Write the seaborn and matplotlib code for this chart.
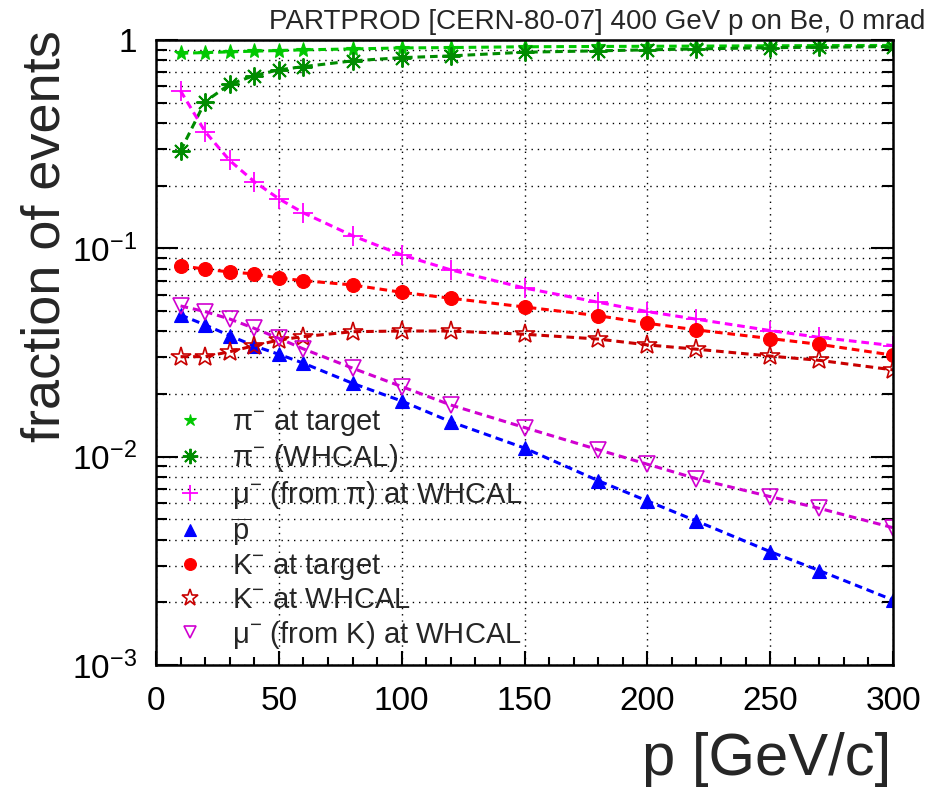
import numpy as np
import matplotlib
matplotlib.use("Agg")
import matplotlib.pyplot as plt
from matplotlib.lines import Line2D
from matplotlib.ticker import LogLocator, MultipleLocator, FuncFormatter, NullFormatter
import seaborn as sns

# Beam momentum bins [GeV/c]
momentum = [10, 20, 30, 40, 50, 60, 80, 100, 120, 150, 180, 200, 220, 250, 270, 300]

# Fraction of events per species
pi_target = [0.864, 0.870, 0.877, 0.884, 0.890, 0.897, 0.906, 0.916, 0.920, 0.928,
             0.931, 0.933, 0.935, 0.938, 0.940, 0.942]
pi_whcal = [0.294, 0.506, 0.613, 0.675, 0.719, 0.745, 0.794, 0.823, 0.839, 0.874,
            0.887, 0.897, 0.906, 0.919, 0.923, 0.930]
mu_from_pi = [0.570, 0.363, 0.264, 0.209, 0.173, 0.148, 0.115, 0.093, 0.0788, 0.0645,
              0.0551, 0.0497, 0.0457, 0.0403, 0.0374, 0.0341]
pbar = [0.0479, 0.0429, 0.0381, 0.0340, 0.0310, 0.0281, 0.0225, 0.0185, 0.0147, 0.0110,
        0.00767, 0.00613, 0.00491, 0.00350, 0.00284, 0.00205]
k_target = [0.0826, 0.0794, 0.0770, 0.0754, 0.0719, 0.0700, 0.0667, 0.0615, 0.0576, 0.0523,
            0.0475, 0.0437, 0.0406, 0.0369, 0.0346, 0.0307]
k_whcal = [0.0302, 0.0302, 0.0319, 0.0341, 0.0363, 0.0377, 0.0398, 0.0401, 0.0401, 0.0387,
           0.0367, 0.0344, 0.0328, 0.0304, 0.0290, 0.0261]
mu_from_k = [0.0529, 0.0497, 0.0458, 0.0413, 0.0370, 0.0329, 0.0266, 0.0217, 0.0177, 0.0138,
             0.0108, 0.00920, 0.00784, 0.00643, 0.00565, 0.00456]

labels = [
    "π$^{-}$ at target",
    "π$^{-}$ (WHCAL)",
    "μ$^{-}$ (from π) at WHCAL",
    r"$\overline{\mathrm{p}}$",
    "K$^{-}$ at target",
    "K$^{-}$ at WHCAL",
    "μ$^{-}$ (from K) at WHCAL",
]
series = [pi_target, pi_whcal, mu_from_pi, pbar, k_target, k_whcal, mu_from_k]

# marker, size, face, edge, edge width, line colour
styles = [
    dict(marker="*", ms=11, mfc="#00c800", mec="#00c800", mew=0.8, color="#00c800"),
    dict(marker=(8, 2, 0), ms=13, mfc="#008c00", mec="#008c00", mew=1.4, color="#008c00"),
    dict(marker="+", ms=14, mfc="#ff00ff", mec="#ff00ff", mew=1.3, color="#ff00ff"),
    dict(marker="^", ms=9.5, mfc="#0000ff", mec="#0000ff", mew=0.8, color="#0000ff"),
    dict(marker="o", ms=10, mfc="#ff0000", mec="#ff0000", mew=0.8, color="#ff0000"),
    dict(marker="*", ms=15, mfc="none", mec="#c80000", mew=1.2, color="#c80000"),
    dict(marker="v", ms=11, mfc="none", mec="#d000d0", mew=1.2, color="#d000d0"),
]

sns.set_style("ticks")
plt.rcParams["font.family"] = ["Liberation Sans", "DejaVu Sans"]
plt.rcParams["mathtext.fontset"] = "custom"
plt.rcParams["mathtext.rm"] = "Liberation Sans"
plt.rcParams["mathtext.it"] = "Liberation Sans:italic"
plt.rcParams["mathtext.bf"] = "Liberation Sans:bold"

W, H = 938, 787
fig = plt.figure(figsize=(W / 100, H / 100), dpi=100)
ax = fig.add_axes([156 / W, 1 - 665 / H, (893 - 156) / W, (665 - 40) / H])
ax.set_yscale("log")

dash = (0, (2.5, 1.6))
for vals, st in zip(series, styles):
    sns.lineplot(x=momentum, y=vals, ax=ax, sort=False, legend=False,
                 lw=2.2, linestyle=dash, **st)

ax.set_xlim(0, 300)
ax.set_ylim(1e-3, 1)

ax.xaxis.set_major_locator(MultipleLocator(50))
ax.xaxis.set_minor_locator(MultipleLocator(10))
ax.yaxis.set_major_locator(LogLocator(base=10, numticks=10))
ax.yaxis.set_minor_locator(LogLocator(base=10, subs=np.arange(2, 10), numticks=20))
ax.yaxis.set_minor_formatter(NullFormatter())


def decade_label(v, pos):
    e = int(round(np.log10(v)))
    return "1" if e == 0 else r"$10^{%d}$" % e


ax.yaxis.set_major_formatter(FuncFormatter(decade_label))

ax.tick_params(axis="both", which="both", direction="in", colors="black", width=1.5)
ax.tick_params(axis="y", which="both", left=True, right=True, pad=14, labelsize=24)
ax.tick_params(axis="y", which="major", length=16)
ax.tick_params(axis="y", which="minor", length=8)
ax.tick_params(axis="x", which="both", top=False, bottom=True, pad=15, labelsize=24)
ax.tick_params(axis="x", which="major", length=10)
ax.tick_params(axis="x", which="minor", length=6)

grid_kw = dict(color="black", lw=1.0, linestyle=(0, (1, 3.5)))
ax.grid(True, which="major", axis="x", **grid_kw)
ax.grid(True, which="both", axis="y", **grid_kw)

for s in ax.spines.values():
    s.set_color("black")
    s.set_linewidth(1.8)

fig.text(925 / W, 1 - 29 / H, "PARTPROD [CERN-80-07] 400 GeV p on Be, 0 mrad",
         ha="right", va="baseline", fontsize=20)
fig.text(891 / W, 1 - 775 / H, "p [GeV/c]", ha="right", va="baseline", fontsize=43)
fig.text(60 / W, 1 - 30 / H, "fraction of events", rotation=90,
         rotation_mode="anchor", ha="right", va="baseline", fontsize=39)

handles = []
for st in styles:
    hs = dict(st)
    hs.pop("color")
    hs["ms"] = hs["ms"] * 0.85
    handles.append(Line2D([], [], ls="none", **hs))
ax.legend(handles, labels, loc="upper left", bbox_to_anchor=(175 / W, 1 - 408 / H),
          bbox_transform=fig.transFigure, frameon=False, fontsize=21,
          borderpad=0, borderaxespad=0, handlelength=1.0, handletextpad=0.94,
          labelspacing=0.15)

fig.savefig("out.png", dpi=100)
